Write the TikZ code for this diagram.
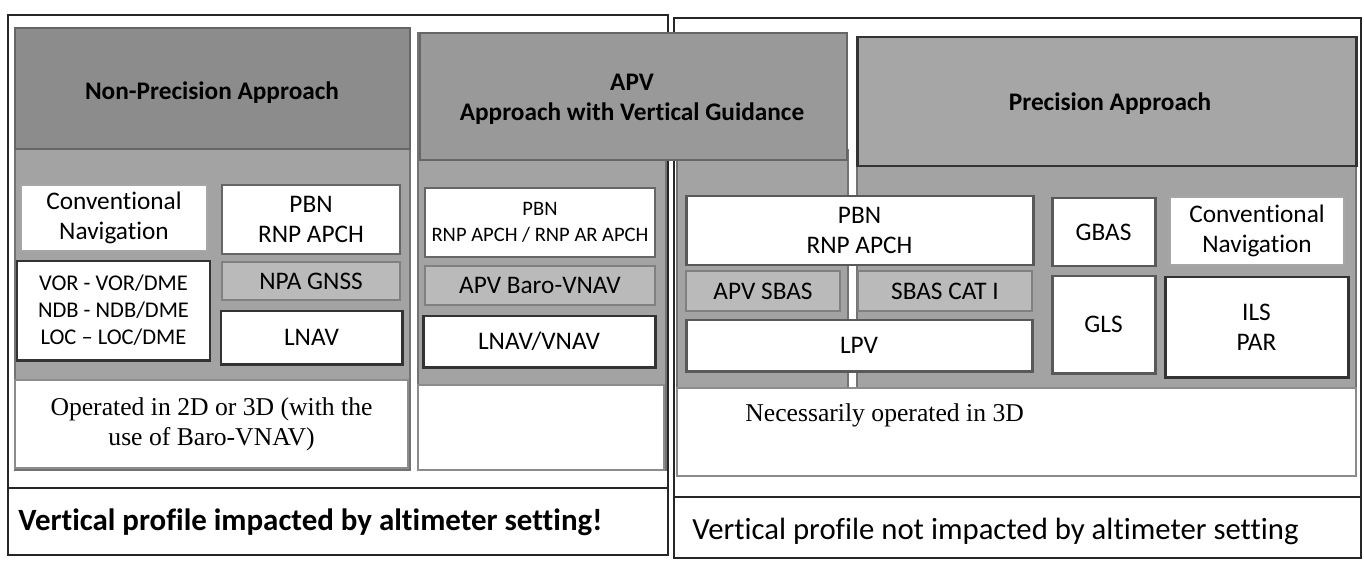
\documentclass[tikz,border=0pt]{standalone}
\usepackage{fontspec}
\setmainfont{Carlito}[Ligatures={TeX,NoCommon}]
\newfontfamily\timesfont{Liberation Serif}
\usepackage{tikz}
\usetikzlibrary{positioning}
\tikzstyle{frame} = [draw=black!85, line width=1.6pt, fill=white]
\tikzstyle{column} = [draw=black!55, line width=1.1pt, fill=black!36]
\tikzstyle{header} = [draw=black!60, line width=1.1pt, inner sep=0pt]
\tikzstyle{title} = [align=center, inner sep=0pt, font=\bfseries\fontsize{14.4}{17}\selectfont]
\tikzstyle{note} = [draw=black!45, line width=1pt, fill=white, align=center, inner sep=0pt, font=\timesfont\fontsize{14.6}{17}\selectfont]
\tikzstyle{lbox} = [draw=black!35, line width=1.1pt, fill=white, align=center, inner sep=0pt, font=\fontsize{14.4}{17}\selectfont]
\tikzstyle{dbox} = [lbox, draw=black!80, line width=1.7pt]
\tikzstyle{gbox} = [lbox, draw=black!50, fill=black!27]
\tikzstyle{strip} = [draw=black!85, line width=1.6pt, fill=white]
% box from corner (x1,y1) to (x2,y2), in pixels
\newcommand{\panel}[7]{\node[#1, minimum width={(#5-#3)*0.02cm}, minimum height={(#6-#4)*0.02cm}] (#2) at ({(#3+#5)/2},{(#4+#6)/2}) {#7};}

\begin{document}
\begin{tikzpicture}[x=0.02cm, y=-0.02cm]
    \useasboundingbox (0,0) rectangle (1364,561);
    % outer frames
    \panel{frame}{leftframe}{8}{15}{668}{555}{}
    \panel{frame}{rightframe}{674}{18}{1361}{558}{}
    % columns
    \panel{column}{npacol}{15}{28}{410}{470}{}
    \panel{column}{apvcolL}{418}{33}{666}{470}{}
    \panel{column}{apvcolR}{677}{150}{848}{388}{}
    \panel{column}{preccol}{857}{37}{1356}{388}{}
    \panel{note}{npanote}{15}{380}{408}{468}{Operated in 2D or 3D (with the\\use of Baro-VNAV)}
    \panel{note}{apvnote}{418}{385}{664}{470}{}
    \panel{note}{precnote}{677}{388}{1356}{476}{}
    \node[font=\timesfont\fontsize{14.6}{17}\selectfont, anchor=west, inner sep=0pt] (prectxt) at (745,415) {Necessarily operated in 3D};
    % headers
    \panel{header, fill=black!45}{npahead}{15}{28}{410}{149}{}
    \panel{header, fill=black!40}{apvhead}{420}{33}{847}{160}{}
    \panel{header, fill=black!35, draw=black!80, line width=1.7pt}{prechead}{857}{37}{1356}{166}{}
    \node[title] (npatitle) at (212,93) {Non-Precision Approach};
    \node[title] (apvtitle) at (632,99) {APV\\Approach with Vertical Guidance};
    \node[title] (prectitle) at (1110,104) {Precision Approach};
    % non-precision boxes
    \panel{lbox}{conv1}{21}{185}{207}{251}{Conventional\\Navigation}
    \panel{lbox, draw=black!60}{pbn1}{222}{185}{400}{254}{PBN\\RNP APCH}
    \panel{dbox, font=\fontsize{12.8}{15.3}\selectfont}{vor}{17}{261}{210}{360}{VOR - VOR/DME\\NDB - NDB/DME\\LOC – LOC/DME}
    \panel{gbox}{npagnss}{222}{262}{400}{300}{NPA GNSS}
    \panel{dbox}{lnav}{221}{311}{402}{364}{LNAV}
    % apv boxes
    \panel{lbox, draw=black!60, font=\fontsize{11.7}{15}\selectfont}{pbn2}{425}{188}{655}{257}{PBN\\RNP APCH / RNP AR APCH}
    \panel{gbox}{baro}{425}{266}{655}{305}{APV Baro-VNAV}
    \panel{dbox}{lnavvnav}{423}{316}{655}{367}{LNAV/VNAV}
    \panel{dbox, draw=black!65}{pbn3}{686}{196}{1033}{265}{PBN\\RNP APCH}
    \panel{gbox}{apvsbas}{686}{271}{840}{311}{APV SBAS}
    \panel{gbox}{sbascat}{858}{271}{1032}{311}{SBAS CAT I}
    \panel{dbox, draw=black!65}{lpv}{686}{320}{1032}{371}{LPV}
    % precision boxes
    \panel{dbox, draw=black!65}{gbas}{1052}{198}{1155}{266}{GBAS}
    \panel{lbox}{conv2}{1170}{197}{1344}{265}{Conventional\\Navigation}
    \panel{dbox, draw=black!65}{gls}{1052}{276}{1155}{373}{GLS}
    \panel{dbox}{ilspar}{1165}{277}{1348}{377}{ILS\\PAR}
    % bottom strips
    \panel{strip}{botL}{8}{488}{668}{555}{}
    \panel{strip}{botR}{674}{497}{1361}{558}{}
    \node[font=\bfseries\fontsize{17.6}{20}\selectfont, anchor=west, inner sep=0pt] (impacted) at (18,522) {Vertical profile impacted by altimeter setting!};
    \node[font=\fontsize{17.5}{20}\selectfont, anchor=west, inner sep=0pt] (notimpacted) at (692,531) {Vertical profile not impacted by altimeter setting};
\end{tikzpicture}
\end{document}
